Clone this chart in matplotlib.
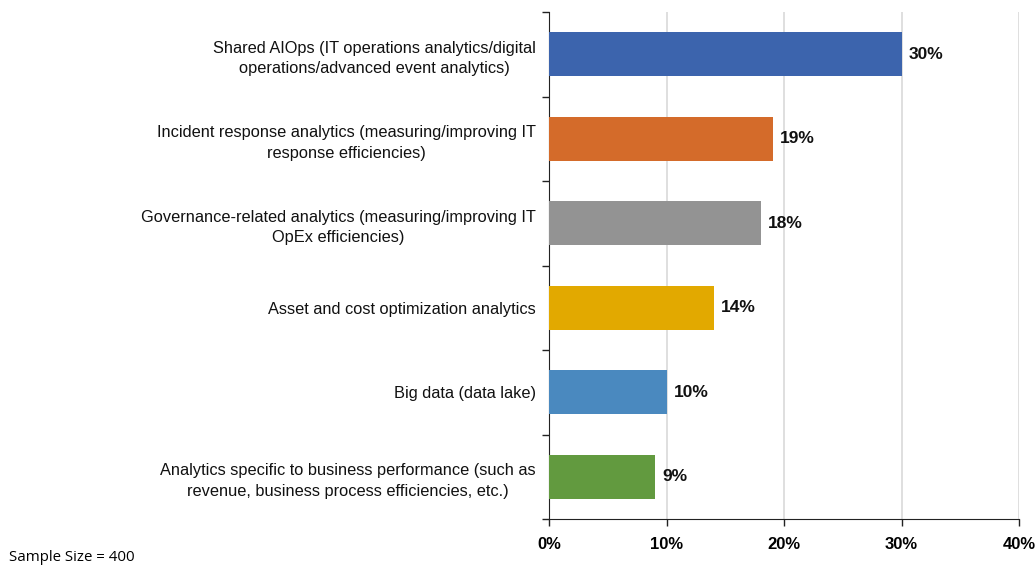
import matplotlib
matplotlib.use("Agg")
import matplotlib.pyplot as plt
import numpy as np

categories = [
    "Shared AIOps (IT operations analytics/digital\noperations/advanced event analytics)",
    "Incident response analytics (measuring/improving IT\nresponse efficiencies)",
    "Governance-related analytics (measuring/improving IT\nOpEx efficiencies)",
    "Asset and cost optimization analytics",
    "Big data (data lake)",
    "Analytics specific to business performance (such as\nrevenue, business process efficiencies, etc.)",
]
values = [30, 19, 18, 14, 10, 9]
colors = ["#3C64AD", "#D46B2A", "#939393", "#E2A900", "#4A89BF", "#629A3F"]
xticks = [0, 10, 20, 30, 40]

plt.rcParams['font.family'] = ['Liberation Sans', 'DejaVu Sans']

fig = plt.figure(figsize=(10.36, 5.66), dpi=100)
ax = fig.add_axes([0.5304, 0.083, 0.4532, 0.8958])

y = np.arange(len(categories))
ax.barh(y, values, height=0.52, color=colors, zorder=3)
for yi, v in zip(y, values):
    ax.text(v + 0.6, yi, f"{v}%", va="center", ha="left",
            fontsize=12.5, fontweight="bold", color="#111111")

ax.set_ylim(len(categories) - 0.5, -0.5)
ax.set_xlim(0, 40)
ax.set_yticks(y)
ax.set_yticklabels(categories, fontsize=11.8, color="#111111")
for lbl in ax.get_yticklabels():
    lbl.set_multialignment("center")
    lbl.set_linespacing(1.45)
ax.tick_params(axis="y", which="major", length=0, pad=10)
ax.set_yticks(np.arange(len(categories) + 1) - 0.5, minor=True)
ax.tick_params(axis="y", which="minor", length=5, width=1, color="#222222")

ax.set_xticks(xticks)
ax.set_xticklabels([f"{t}%" for t in xticks], fontsize=12, fontweight="bold")
ax.tick_params(axis="x", length=5, width=1, pad=8, color="#222222")
ax.grid(axis="x", color="#D9D9D9", linewidth=1.2, zorder=0)

for side in ["top", "right"]:
    ax.spines[side].set_visible(False)
ax.spines["left"].set_color("#222222")
ax.spines["bottom"].set_color("#222222")

fig.text(0.009, 0.008, "Sample Size = 400", fontsize=10.8, family=["Open Sans", "DejaVu Sans"])

fig.savefig("out.png", dpi=100)
